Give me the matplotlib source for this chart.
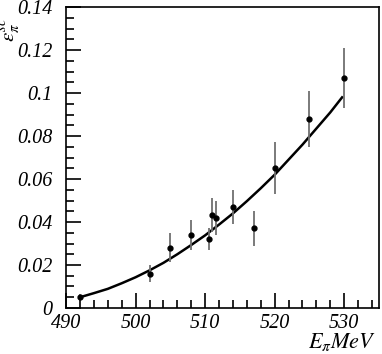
import matplotlib
matplotlib.use("Agg")
import matplotlib.pyplot as plt
from matplotlib.ticker import MultipleLocator, FixedLocator, FixedFormatter

plt.rcParams['font.family'] = 'Liberation Serif'
plt.rcParams['font.style'] = 'italic'
plt.rcParams['mathtext.fontset'] = 'stix'

# measured points: pion energy (MeV), efficiency, error
e_pi = [492, 502, 505, 508, 510.5, 511, 511.5, 514, 517, 520, 525, 530]
eff = [0.005, 0.016, 0.028, 0.034, 0.032, 0.0433, 0.042, 0.047, 0.037, 0.065, 0.088, 0.107]
err = [0.0015, 0.004, 0.0067, 0.007, 0.005, 0.008, 0.008, 0.008, 0.008, 0.012, 0.013, 0.014]

# fit curve
fit_x = [492, 494, 496, 498, 500, 502, 504, 506, 508, 510, 512, 514,
         516, 518, 520, 522, 524, 526, 528, 529.7]
fit_y = [0.005, 0.0069, 0.0089, 0.0115, 0.0143, 0.0175, 0.0210, 0.0250, 0.0293,
         0.0338, 0.0388, 0.0440, 0.0497, 0.0557, 0.0620, 0.0690, 0.0760, 0.0835,
         0.0910, 0.0980]

y_ticks = [0, 0.02, 0.04, 0.06, 0.08, 0.1, 0.12, 0.14]
y_labels = ['0', '0.02', '0.04', '0.06', '0.08', '0.1', '0.12', '0.14']
x_ticks = [490, 500, 510, 520, 530]
x_labels = ['490', '500', '510', '520', '530']

fig = plt.figure(figsize=(3.82, 3.54), dpi=100)
ax = fig.add_axes([0.173, 0.130, 0.819, 0.850])

ax.plot(fit_x, fit_y, '-', color='black', lw=1.8)
ax.errorbar(e_pi, eff, yerr=err, fmt='o', ms=3.5, color='black',
            ecolor='#707070', elinewidth=1.3, capsize=0)

ax.set_xlim(490, 535)
ax.set_ylim(0, 0.14)

ax.xaxis.set_major_locator(FixedLocator(x_ticks))
ax.xaxis.set_major_formatter(FixedFormatter(x_labels))
ax.xaxis.set_minor_locator(MultipleLocator(2))
ax.yaxis.set_major_locator(FixedLocator(y_ticks))
ax.yaxis.set_major_formatter(FixedFormatter(y_labels))
ax.yaxis.set_minor_locator(MultipleLocator(0.005))

ax.tick_params(which='both', direction='in', top=False, right=False, width=1.2, labelsize=14.5)
ax.tick_params(which='major', length=11)
ax.tick_params(which='minor', length=6)
ax.tick_params(axis='x', pad=4)
ax.tick_params(axis='y', pad=10)
for s in ax.spines.values():
    s.set_linewidth(1.2)

fig.text(0.028, 0.915, r'$\varepsilon_{\pi}^{sc}$', rotation=90, fontsize=15,
         ha='center', va='center')
fig.text(0.985, 0.004, r'$E_{\pi}MeV$', fontsize=16, ha='right', va='bottom')

fig.savefig('out.png', dpi=100)
